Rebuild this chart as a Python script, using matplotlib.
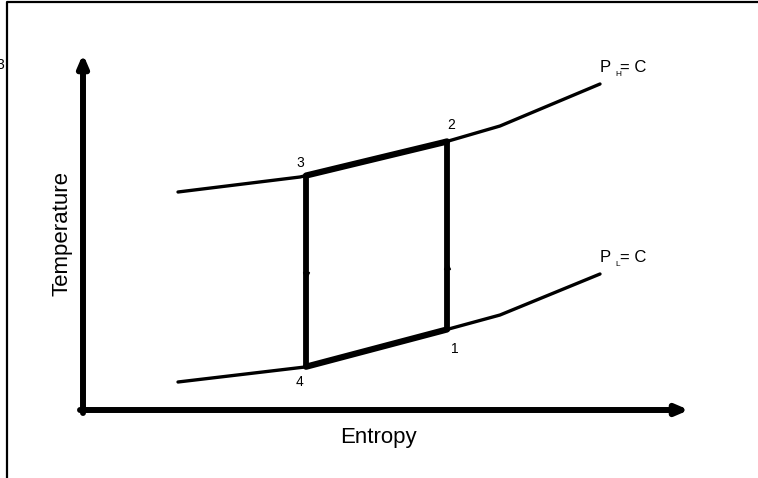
"""T-s diagram of a Brayton-type cycle between two constant-pressure lines."""

import matplotlib.pyplot as plt
import numpy as np

plt.rcParams["font.family"] = ["Liberation Sans", "DejaVu Sans"]

# constant pressure lines (entropy, temperature) in arbitrary units
s_high = [0.95, 2.17, 3.62, 4.17, 5.17]
T_high = [2.18, 2.33, 2.68, 2.84, 3.26]
s_low = [0.95, 2.22, 3.62, 4.17, 5.17]
T_low = [0.28, 0.43, 0.80, 0.95, 1.36]

# cycle state points 1..4
state_labels = ["1", "2", "3", "4"]
state_s = [3.64, 3.64, 2.23, 2.23]
state_T = [0.80, 2.68, 2.34, 0.43]

fig = plt.figure(figsize=(7.58, 4.78), dpi=100)
ax = fig.add_axes([0, 0, 1, 1])
ax.set_xlim(-0.83, 6.75)
ax.set_ylim(-0.68, 4.10)
ax.axis("off")

# outer frame (only top and left edges fall inside the picture)
ax.plot([-0.76, -0.76, 7.0], [-1.0, 4.08, 4.08], color="black", lw=1.6,
        solid_capstyle="butt")
ax.text(-0.79, 3.45, "3", fontsize=10, ha="right", va="center")

# coordinate axes with arrow heads
arrow = dict(arrowstyle="-|>,head_length=0.7,head_width=0.3",
             lw=4.3, color="black", shrinkA=0, shrinkB=0)
ax.annotate("", xy=(0, 3.56), xytext=(0, -0.03), arrowprops=arrow)
ax.annotate("", xy=(6.06, 0), xytext=(-0.03, 0), arrowprops=arrow)
ax.text(-0.21, 1.76, "Temperature", fontsize=16, rotation=90,
        ha="center", va="center")
ax.text(2.95, -0.27, "Entropy", fontsize=16, ha="center", va="center")

# constant pressure lines
ax.plot(s_high, T_high, color="black", lw=2.4, solid_capstyle="round")
ax.plot(s_low, T_low, color="black", lw=2.4, solid_capstyle="round")

# heat addition / rejection along the isobars (thicker)
s1, s2, s3, s4 = state_s
T1, T2, T3, T4 = state_T
seg_high = np.linspace(s3, s2, 30)
ax.plot(seg_high, np.interp(seg_high, s_high, T_high), color="black", lw=4.5,
        solid_capstyle="round")
seg_low = np.linspace(s4, s1, 30)
ax.plot(seg_low, np.interp(seg_low, s_low, T_low), color="black", lw=4.5,
        solid_capstyle="round")

# isentropic compression and expansion
ax.plot([s1, s2], [T1, T2], color="black", lw=4.2, solid_capstyle="butt")
ax.plot([s3, s4], [T3, T4], color="black", lw=4.2, solid_capstyle="butt")
ax.plot([s4], [(T3 + T4) / 2 - 0.03], marker="v", ms=4, color="black")
ax.plot([s1], [(T1 + T2) / 2 - 0.3], marker="^", ms=4, color="black")

# state labels
offsets = {"1": (0.08, -0.19), "2": (0.04, 0.17), "3": (-0.06, 0.13),
           "4": (-0.07, -0.15)}
for lab, s, T in zip(state_labels, state_s, state_T):
    dx, dy = offsets[lab]
    ax.text(s + dx, T + dy, lab, fontsize=10, ha="center", va="center")

# isobar labels
for T_lab, sub in [(3.35, "H"), (1.45, "L")]:
    ax.text(5.17, T_lab, "P", fontsize=12, ha="left", va="bottom")
    ax.text(5.32, T_lab - 0.03, sub, fontsize=6, ha="left", va="bottom")
    ax.text(5.37, T_lab, "= C", fontsize=12, ha="left", va="bottom")

fig.savefig("out.png", dpi=100)
